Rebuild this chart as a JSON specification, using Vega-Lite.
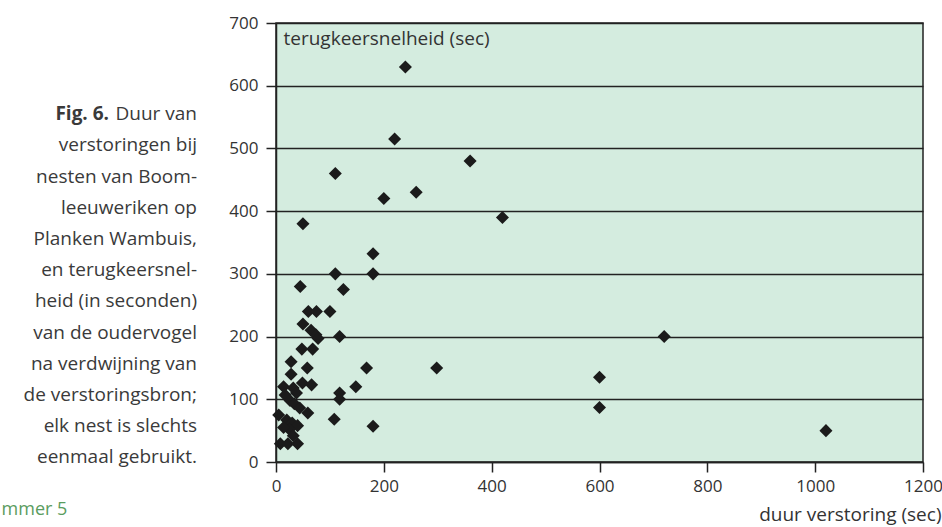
{
  "$schema": "https://vega.github.io/schema/vega-lite/v6.json",
  "width": 647,
  "height": 439,
  "autosize": {"type": "none"},
  "padding": {"left": 276, "top": 23, "right": 19, "bottom": 65},
  "background": "#ffffff",
  "config": {
    "font": "Open Sans",
    "view": {"stroke": "#222222", "strokeWidth": 1.5, "fill": "#d4ecdf"}
  },
  "datasets": {
    "nesten": [
      {"duur": 240, "terug": 630}, {"duur": 220, "terug": 515}, {"duur": 110, "terug": 460},
      {"duur": 360, "terug": 480}, {"duur": 200, "terug": 420}, {"duur": 260, "terug": 430},
      {"duur": 420, "terug": 390}, {"duur": 50, "terug": 380}, {"duur": 180, "terug": 332},
      {"duur": 110, "terug": 300}, {"duur": 180, "terug": 300}, {"duur": 45, "terug": 280},
      {"duur": 125, "terug": 275}, {"duur": 60, "terug": 240}, {"duur": 75, "terug": 240},
      {"duur": 100, "terug": 240}, {"duur": 50, "terug": 220}, {"duur": 65, "terug": 210},
      {"duur": 74, "terug": 203}, {"duur": 78, "terug": 197}, {"duur": 118, "terug": 200},
      {"duur": 48, "terug": 180}, {"duur": 68, "terug": 180}, {"duur": 28, "terug": 160},
      {"duur": 58, "terug": 150}, {"duur": 168, "terug": 150}, {"duur": 298, "terug": 150},
      {"duur": 28, "terug": 140}, {"duur": 14, "terug": 120}, {"duur": 32, "terug": 118},
      {"duur": 49, "terug": 126}, {"duur": 66, "terug": 123}, {"duur": 17, "terug": 107},
      {"duur": 38, "terug": 110}, {"duur": 148, "terug": 120}, {"duur": 118, "terug": 110},
      {"duur": 118, "terug": 100}, {"duur": 26, "terug": 98}, {"duur": 34, "terug": 93},
      {"duur": 44, "terug": 86}, {"duur": 59, "terug": 78}, {"duur": 5, "terug": 75},
      {"duur": 20, "terug": 67}, {"duur": 30, "terug": 62}, {"duur": 40, "terug": 58},
      {"duur": 25, "terug": 52}, {"duur": 14, "terug": 55}, {"duur": 108, "terug": 68},
      {"duur": 180, "terug": 57}, {"duur": 8, "terug": 29}, {"duur": 22, "terug": 29},
      {"duur": 40, "terug": 29}, {"duur": 32, "terug": 42}, {"duur": 720, "terug": 200},
      {"duur": 600, "terug": 135}, {"duur": 600, "terug": 87}, {"duur": 1020, "terug": 50}
    ],
    "een": [{}]
  },
  "layer": [
    {
      "data": {"name": "nesten"},
      "mark": {"type": "point", "shape": "diamond", "filled": true, "size": 170, "color": "#1b1b1b", "opacity": 1},
      "encoding": {
        "x": {
          "field": "duur", "type": "quantitative",
          "scale": {"domain": [0, 1200], "nice": false, "zero": true},
          "axis": {
            "title": "duur verstoring (sec)",
            "values": [0, 200, 400, 600, 800, 1000, 1200],
            "format": "d",
            "grid": false,
            "domainColor": "#222222", "domainWidth": 1.5,
            "tickColor": "#222222", "tickWidth": 1.5, "tickSize": 10,
            "labelFont": "Open Sans", "labelFontSize": 17, "labelColor": "#333333",
            "labelPadding": 6, "labelFlush": false,
            "titleFont": "Open Sans", "titleFontSize": 19, "titleFontWeight": "normal", "titleColor": "#333333",
            "titleAlign": "right", "titleBaseline": "alphabetic", "titleX": 665, "titleY": 58
          }
        },
        "y": {
          "field": "terug", "type": "quantitative",
          "scale": {"domain": [0, 700], "nice": false},
          "axis": {
            "title": "terugkeersnelheid (sec)",
            "values": [0, 100, 200, 300, 400, 500, 600, 700],
            "format": "d",
            "grid": true, "gridColor": "#222222", "gridWidth": 1.5, "gridOpacity": 1,
            "domainColor": "#222222", "domainWidth": 1.5,
            "tickColor": "#222222", "tickWidth": 1.5, "tickSize": 10,
            "labelFont": "Open Sans", "labelFontSize": 17, "labelColor": "#333333",
            "labelPadding": 8,
            "titleFont": "Open Sans", "titleFontSize": 19, "titleFontWeight": "normal", "titleColor": "#333333",
            "titleAngle": 0, "titleAlign": "left", "titleBaseline": "alphabetic", "titleX": 7, "titleY": 21
          }
        }
      }
    },
    {
      "data": {"name": "een"},
      "mark": {
        "type": "text", "align": "right", "baseline": "alphabetic", "font": "Open Sans",
        "fontSize": 19, "lineHeight": 31.2, "color": "#3a3a3a",
        "text": ["Duur van", "verstoringen bij", "nesten van Boom-", "leeuweriken op", "Planken Wambuis,", "en terugkeersnel-", "heid (in seconden)", "van de oudervogel", "na verdwijning van", "de verstoringsbron;", "elk nest is slechts", "eenmaal gebruikt."]
      },
      "encoding": {
        "x": {"datum": -146.5, "type": "quantitative"},
        "y": {"datum": 545, "type": "quantitative"}
      }
    },
    {
      "data": {"name": "een"},
      "mark": {
        "type": "text", "align": "right", "baseline": "alphabetic", "font": "Open Sans",
        "fontSize": 19, "fontWeight": "bold", "color": "#3a3a3a", "dx": -88, "text": "Fig. 6."
      },
      "encoding": {
        "x": {"datum": -146.5, "type": "quantitative"},
        "y": {"datum": 545, "type": "quantitative"}
      }
    },
    {
      "data": {"name": "een"},
      "mark": {
        "type": "text", "align": "left", "baseline": "alphabetic", "font": "Open Sans",
        "fontSize": 18, "color": "#5a9c5e", "text": "mmer 5"
      },
      "encoding": {
        "x": {"datum": -509, "type": "quantitative"},
        "y": {"datum": -84, "type": "quantitative"}
      }
    }
  ]
}
